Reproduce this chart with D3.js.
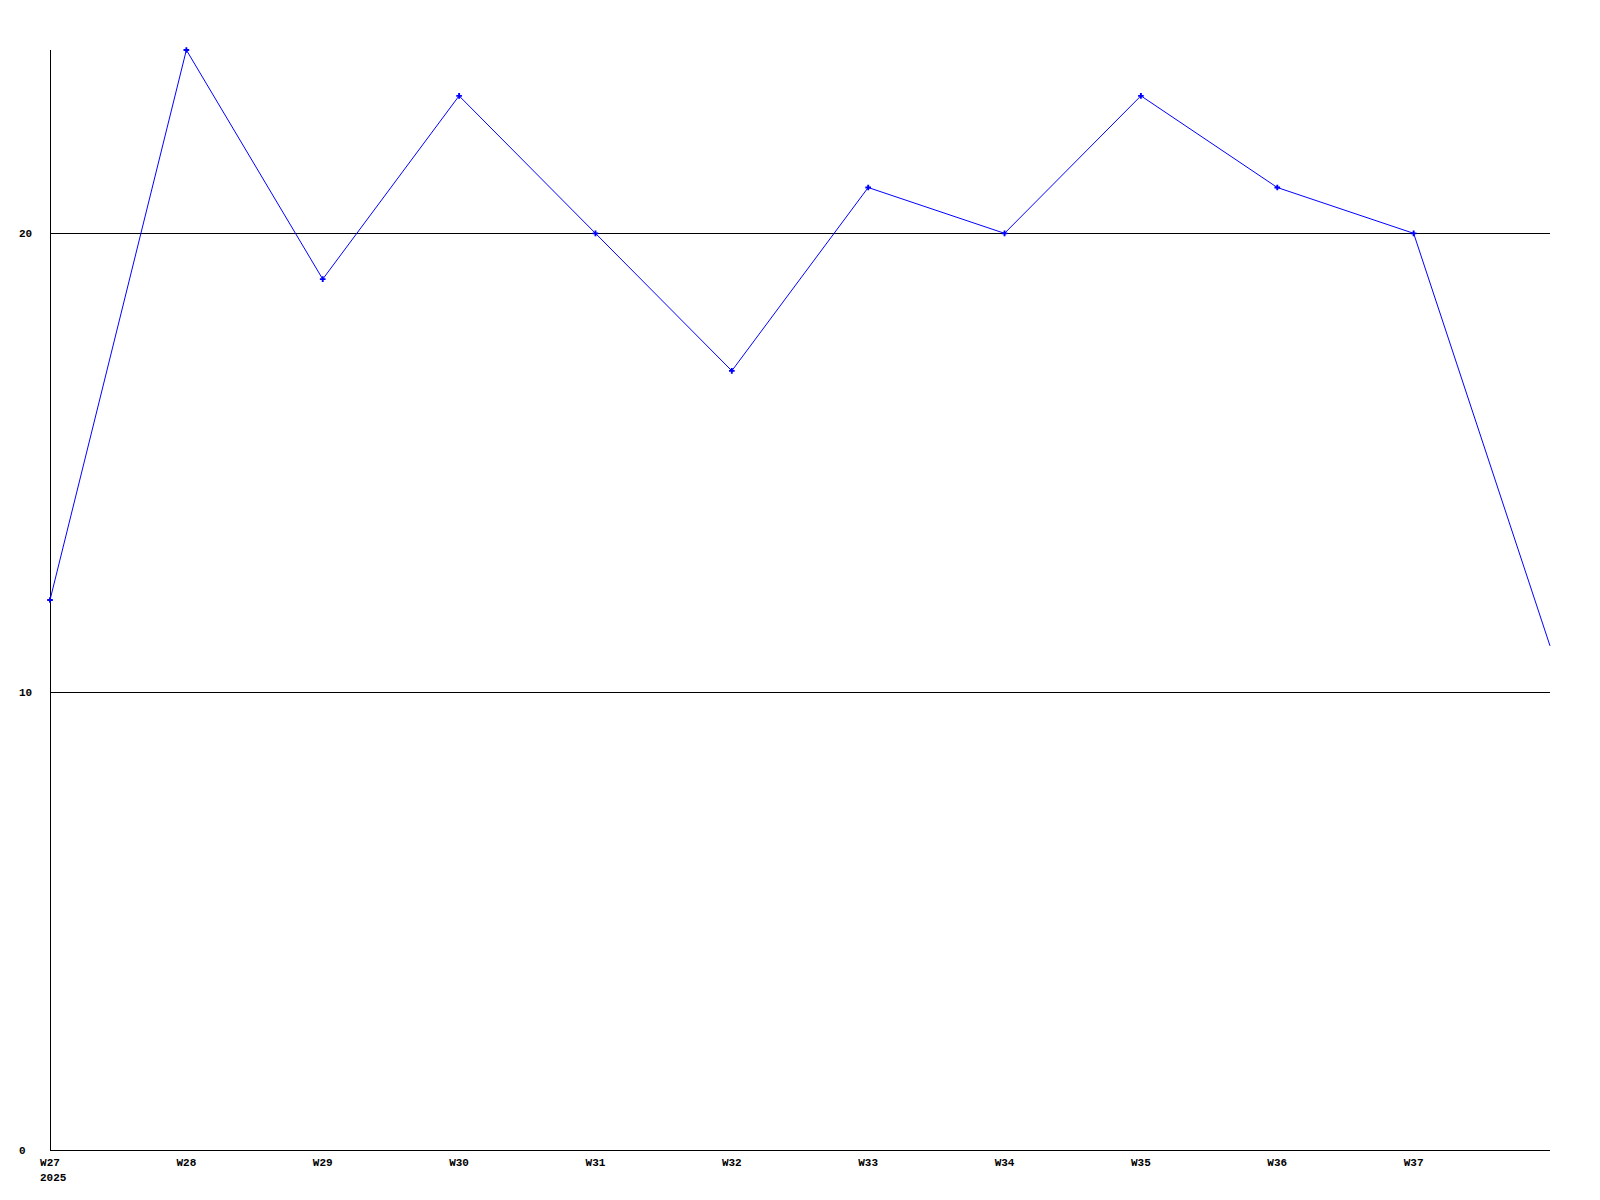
<!DOCTYPE html>
<html>
<head>
<meta charset="utf-8">
<script src="https://cdn.jsdelivr.net/npm/d3@7"></script>
<style>
  body { margin: 0; background: #fff; }
  text { font-family: "Liberation Mono", "DejaVu Sans Mono", monospace; font-weight: bold; font-size: 11px; fill: #000; }
</style>
</head>
<body>
<div id="chart"></div>
<script>
// weekly values, last week runs off the right edge with no label
var weeks = ["W27", "W28", "W29", "W30", "W31", "W32", "W33", "W34", "W35", "W36", "W37", "W38"];
var values = [12, 24, 19, 23, 20, 17, 21, 20, 23, 21, 20, 11];
var weekLabels = ["W27", "W28", "W29", "W30", "W31", "W32", "W33", "W34", "W35", "W36", "W37"];
var yearLabel = "2025";
var yTicks = [0, 10, 20];

var width = 1600, height = 1200;
// note: "top" is taken by window.top, so plot edges get their own names
var plotLeft = 50, plotRight = 1550, plotTop = 50, plotBottom = 1150;

var svg = d3.select("#chart").append("svg")
  .attr("width", width)
  .attr("height", height);

var x = d3.scalePoint()
  .domain(weeks)
  .range([plotLeft, plotRight]);

var y = d3.scaleLinear()
  .domain([0, 24])
  .range([plotBottom, plotTop]);

// grid lines
svg.selectAll("line.grid")
  .data(yTicks.filter(function(d) { return d > 0; }))
  .enter().append("line")
  .attr("class", "grid")
  .attr("x1", plotLeft)
  .attr("x2", plotRight)
  .attr("y1", function(d) { return Math.round(y(d)) + 0.5; })
  .attr("y2", function(d) { return Math.round(y(d)) + 0.5; })
  .attr("stroke", "#000")
  .attr("shape-rendering", "crispEdges");

// axes lines
svg.append("line")
  .attr("x1", plotLeft + 0.5).attr("x2", plotLeft + 0.5)
  .attr("y1", plotTop).attr("y2", plotBottom + 0.5)
  .attr("stroke", "#000")
  .attr("shape-rendering", "crispEdges");

svg.append("line")
  .attr("x1", plotLeft).attr("x2", plotRight)
  .attr("y1", plotBottom + 0.5).attr("y2", plotBottom + 0.5)
  .attr("stroke", "#000")
  .attr("shape-rendering", "crispEdges");

// y labels
svg.selectAll("text.ylab")
  .data(yTicks)
  .enter().append("text")
  .attr("class", "ylab")
  .attr("x", 19)
  .attr("y", function(d) { return y(d); })
  .attr("dy", "0.35em")
  .text(function(d) { return d; });

// x labels
svg.selectAll("text.xlab")
  .data(weekLabels)
  .enter().append("text")
  .attr("class", "xlab")
  .attr("x", function(d) { return x(d); })
  .attr("y", plotBottom + 12)
  .attr("dy", "0.35em")
  .attr("text-anchor", "middle")
  .text(function(d) { return d; });

svg.append("text")
  .attr("x", x(weeks[0]) - 10)
  .attr("y", plotBottom + 27)
  .attr("dy", "0.35em")
  .text(yearLabel);

// data line
var line = d3.line()
  .x(function(d, i) { return x(weeks[i]); })
  .y(function(d) { return y(d); });

svg.append("path")
  .datum(values)
  .attr("d", line)
  .attr("fill", "none")
  .attr("stroke", "#0000ff")
  .attr("stroke-width", 1);

// markers, not on the last week
svg.selectAll("path.mark")
  .data(values.slice(0, weekLabels.length))
  .enter().append("path")
  .attr("class", "mark")
  .attr("transform", function(d, i) { return "translate(" + x(weeks[i]) + "," + y(d) + ")"; })
  .attr("d", d3.symbol().type(d3.symbolCross).size(18))
  .attr("fill", "#0000ff");
</script>
</body>
</html>
